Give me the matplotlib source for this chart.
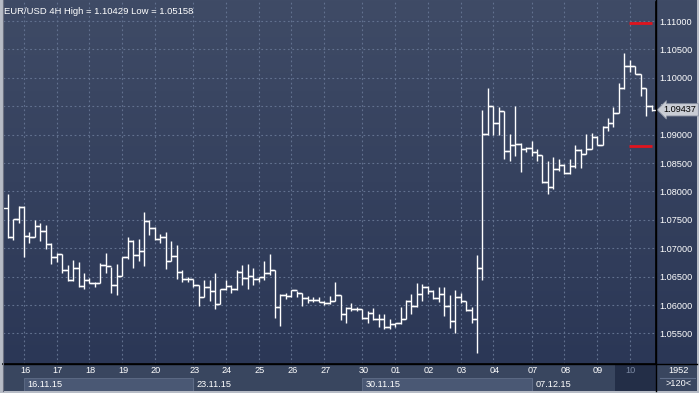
import numpy as np
import matplotlib
matplotlib.use("Agg")
import matplotlib.pyplot as plt
from matplotlib.colors import LinearSegmentedColormap
from matplotlib.transforms import blended_transform_factory
from matplotlib.patches import Rectangle

# EUR/USD 4H bars (open = previous close)
first_open = 1.0771
highs = [1.0795, 1.0752, 1.0775, 1.0774, 1.0729, 1.0749, 1.0744, 1.0741, 1.0709, 1.0692,
         1.0690, 1.0670, 1.0679, 1.0675, 1.0656, 1.0647, 1.0641, 1.0674, 1.0691, 1.0667,
         1.0672, 1.0685, 1.0719, 1.0714, 1.0716, 1.0764, 1.0749, 1.0738, 1.0726, 1.0729,
         1.0712, 1.0706, 1.0661, 1.0650, 1.0646, 1.0636, 1.0645, 1.0644, 1.0656, 1.0629,
         1.0644, 1.0635, 1.0662, 1.0671, 1.0672, 1.0665, 1.0650, 1.0678, 1.0690, 1.0662,
         1.0619, 1.0622, 1.0627, 1.0624, 1.0622, 1.0616, 1.0614, 1.0614, 1.0608, 1.0616,
         1.0640, 1.0618, 1.0596, 1.0603, 1.0597, 1.0593, 1.0590, 1.0595, 1.0584, 1.0584,
         1.0575, 1.0569, 1.0597, 1.0609, 1.0619, 1.0638, 1.0637, 1.0634, 1.0626, 1.0632,
         1.0631, 1.0618, 1.0626, 1.0622, 1.0608, 1.0596, 1.0689, 1.0944, 1.0983, 1.0951,
         1.0948, 1.0942, 1.0901, 1.0951, 1.0886, 1.0878, 1.0888, 1.0874, 1.0864, 1.0854,
         1.0861, 1.0857, 1.0848, 1.0857, 1.0882, 1.0874, 1.0901, 1.0903, 1.0898, 1.0915,
         1.0929, 1.0948, 1.0991, 1.10429, 1.1031, 1.1020, 1.1007, 1.0982, 1.0952]
lows = [1.0718, 1.0714, 1.0745, 1.0685, 1.0710, 1.0719, 1.0713, 1.0698, 1.0673, 1.0675,
        1.0656, 1.0643, 1.0642, 1.0632, 1.0628, 1.0638, 1.0632, 1.0638, 1.0657, 1.0622,
        1.0617, 1.0651, 1.0681, 1.0666, 1.0678, 1.0668, 1.0723, 1.0715, 1.0710, 1.0663,
        1.0677, 1.0646, 1.0641, 1.0641, 1.0631, 1.0599, 1.0614, 1.0608, 1.0593, 1.0602,
        1.0626, 1.0622, 1.0627, 1.0635, 1.0628, 1.0635, 1.0641, 1.0645, 1.0653, 1.0578,
        1.0563, 1.0611, 1.0615, 1.0615, 1.0599, 1.0604, 1.0605, 1.0605, 1.0601, 1.0602,
        1.0608, 1.0574, 1.0568, 1.0590, 1.0589, 1.0575, 1.0569, 1.0574, 1.0562, 1.0558,
        1.0558, 1.0561, 1.0566, 1.0575, 1.0585, 1.0597, 1.0608, 1.0619, 1.0611, 1.0606,
        1.0581, 1.0559, 1.0550, 1.0603, 1.0590, 1.0569, 1.05158, 1.0645, 1.0899, 1.0899,
        1.0899, 1.0857, 1.0854, 1.0863, 1.0835, 1.0869, 1.0863, 1.0854, 1.0815, 1.0795,
        1.0804, 1.0836, 1.0830, 1.0831, 1.0842, 1.0841, 1.0866, 1.0875, 1.0881, 1.0881,
        1.0906, 1.0913, 1.0938, 1.0981, 1.1010, 1.1006, 1.0968, 1.0932, 1.0942]
closes = [1.0719, 1.0751, 1.0773, 1.0721, 1.0720, 1.0739, 1.0731, 1.0708, 1.0685, 1.0690,
          1.0661, 1.0645, 1.0665, 1.0633, 1.0645, 1.0639, 1.0638, 1.0670, 1.0669, 1.0636,
          1.0651, 1.0684, 1.0713, 1.0688, 1.0695, 1.0748, 1.0735, 1.0716, 1.0719, 1.0678,
          1.0687, 1.0659, 1.0646, 1.0646, 1.0636, 1.0614, 1.0632, 1.0625, 1.0602, 1.0628,
          1.0634, 1.0629, 1.0659, 1.0648, 1.0651, 1.0646, 1.0649, 1.0656, 1.0662, 1.0596,
          1.0618, 1.0616, 1.0626, 1.0622, 1.0612, 1.0609, 1.0609, 1.0606, 1.0604, 1.0608,
          1.0618, 1.0584, 1.0595, 1.0593, 1.0593, 1.0577, 1.0586, 1.0575, 1.0575, 1.0561,
          1.0566, 1.0568, 1.0575, 1.0608, 1.0599, 1.0619, 1.0631, 1.0624, 1.0613, 1.0619,
          1.0598, 1.0572, 1.0615, 1.0608, 1.0591, 1.0575, 1.0665, 1.0902, 1.0950, 1.0921,
          1.0941, 1.0872, 1.0882, 1.0884, 1.0875, 1.0876, 1.0870, 1.0864, 1.0816, 1.0807,
          1.0839, 1.0847, 1.0832, 1.0844, 1.0873, 1.0866, 1.0875, 1.0895, 1.0882, 1.0913,
          1.0920, 1.0938, 1.0982, 1.1020, 1.1020, 1.1007, 1.0982, 1.0951, 1.09437]

lead_bars = 3  # bars before Monday 16th
day_labels = ["16", "17", "18", "19", "20", "23", "24", "25", "26", "27",
              "30", "01", "02", "03", "04", "07", "08", "09", "10"]
day_bars = [6, 6, 6, 6, 7, 6, 6, 6, 6, 7, 6, 6, 6, 6, 7, 6, 6, 6, 5]
week_labels = ["16.11.15", "23.11.15", "30.11.15", "07.12.15"]
level_hi = 1.1097
level_lo = 1.0880
price_ticks = [1.055, 1.060, 1.065, 1.070, 1.075, 1.080, 1.085,
               1.090, 1.095, 1.100, 1.105, 1.110]

W, H = 699, 393
fig = plt.figure(figsize=(W / 100, H / 100), dpi=100, facecolor="#b7bcc6")


def box(x0, y0, x1, y1):
    return [x0 / W, 1 - y1 / H, (x1 - x0) / W, (y1 - y0) / H]


# gradient background behind plot and price scale
bg = fig.add_axes(box(3, 0, 697, 364))
grad = LinearSegmentedColormap.from_list("g", ["#3f4b66", "#2b3756"])
bg.imshow(np.linspace(0, 1, 256).reshape(-1, 1), aspect="auto", cmap=grad,
          extent=[0, 1, 0, 1])
bg.axis("off")

opens = [first_open] + closes[:-1]
n = len(closes)
x = np.arange(n)
starts = lead_bars + np.concatenate([[0], np.cumsum(day_bars)[:-1]])

ax = fig.add_axes(box(3, 2, 656, 364))
ax.set_facecolor("none")
ax.set_xlim(-0.84, 118.8)
ax.set_ylim(1.04963, 1.11335)
w = 0.82
ax.vlines(x, lows, highs, color="white", lw=1.0, zorder=3)
ax.hlines(opens, x - w, x, color="white", lw=1.0, zorder=3)
ax.hlines(closes, x, x + w, color="white", lw=1.0, zorder=3)

# pivot levels for the current day
ax.hlines([level_hi, level_lo], starts[-1] - 0.2, n - 1, color="#e0141e", lw=2.0,
          zorder=6, capstyle="butt")

ax.set_xticks(starts)
ax.set_yticks(price_ticks)
ax.grid(True, color="#62718f", lw=0.8, ls=(0, (1.6, 2.4)))
ax.set_axisbelow(True)
ax.tick_params(axis="x", length=0, labelbottom=False)
ax.yaxis.tick_right()
ax.tick_params(axis="y", length=0, pad=2.5, labelsize=6.6, labelcolor="white")
ax.set_yticklabels([f"{v:.5f}" for v in price_ticks], family="Liberation Sans")
for s in ["top", "left"]:
    ax.spines[s].set_visible(False)
ax.spines["right"].set_color("black")
ax.spines["right"].set_linewidth(1.2)
ax.spines["bottom"].set_color("black")
ax.spines["bottom"].set_linewidth(1.2)

ax.text(0.002, 0.985, "EUR/USD 4H High = %.5f Low = %.5f" % (max(highs), min(lows)),
        transform=ax.transAxes, ha="left", va="top", color="white",
        fontsize=6.8, family="Liberation Sans")

tr = blended_transform_factory(ax.transAxes, ax.transData)
ax.text(1.012, closes[-1], "%.5f" % closes[-1], transform=tr, ha="left", va="center",
        fontsize=6.6, family="Liberation Sans", color="black", zorder=7, clip_on=False,
        bbox=dict(boxstyle="larrow,pad=0.18", fc="#c9cdd5", ec="#8a92a2", lw=0.6))

# time scale
axb = fig.add_axes(box(3, 364, 656, 391))
axb.set_facecolor("#39465f")
axb.set_xlim(ax.get_xlim())
axb.set_ylim(0, 1)
axb.set_xticks([])
axb.set_yticks([])
for s in axb.spines.values():
    s.set_visible(False)
week_starts = [starts[k] for k in range(0, len(starts), 5)]
week_ends = week_starts[1:] + [ax.get_xlim()[1]]
for k, (a, b) in enumerate(zip(week_starts, week_ends)):
    if k % 2 == 0:
        axb.add_patch(Rectangle((a, 0), b - a, 0.5, fc="#4a5874", ec="#5f6d88", lw=0.6))
    else:
        axb.vlines(a, 0, 0.5, color="#5f6d88", lw=0.8)
    axb.text(a + 0.7, 0.25, week_labels[k], ha="left", va="center", color="white",
             fontsize=6.6, family="Liberation Sans")
axb.add_patch(Rectangle((starts[-1] - 2.7, 0), 10, 1, fc="#232e47", ec="none"))
for k, (s, lab) in enumerate(zip(starts, day_labels)):
    col = "#7c89a3" if k == len(starts) - 1 else "white"
    axb.text(s + 0.2, 0.76, lab, ha="center", va="center", color=col,
             fontsize=6.6, family="Liberation Sans")

axr = fig.add_axes(box(656, 364, 697, 391))
axr.set_facecolor("#39465f")
axr.set_xticks([])
axr.set_yticks([])
for s in axr.spines.values():
    s.set_visible(False)
axr.axhline(0.5, xmin=0.1, xmax=0.95, color="#5f6d88", lw=0.8)
axr.text(0.55, 0.76, "1952", ha="center", va="center", color="white",
         fontsize=6.6, family="Liberation Sans", transform=axr.transAxes)
axr.text(0.55, 0.26, ">120<", ha="center", va="center", color="white",
         fontsize=6.6, family="Liberation Sans", transform=axr.transAxes)

# separators
sep = fig.add_axes([0, 0, 1, 1])
sep.set_xlim(0, W)
sep.set_ylim(H, 0)
sep.axis("off")
sep.plot([3, 697], [364, 364], color="black", lw=1.0)
sep.plot([656, 656], [0, 391], color="black", lw=1.0)
sep.plot([2.5, 2.5], [0, 391], color="#6b7080", lw=0.8)

fig.savefig("out.png", dpi=100, facecolor=fig.get_facecolor())
